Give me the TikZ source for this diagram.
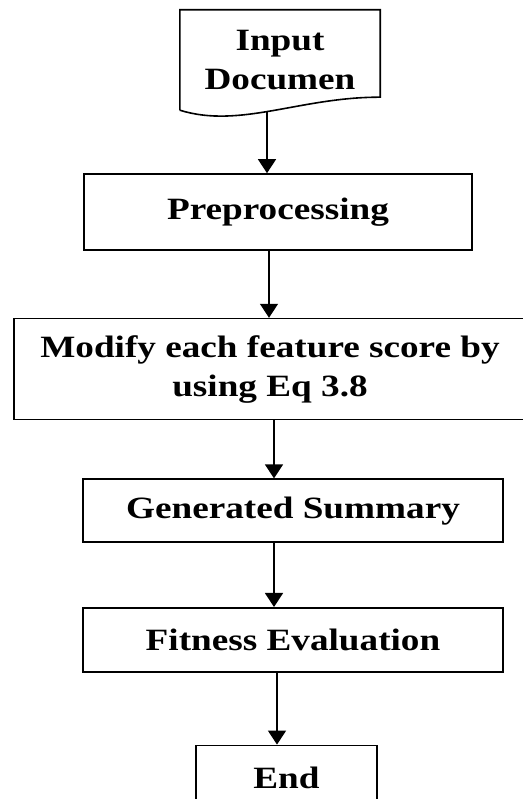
\documentclass[tikz,border=0pt]{standalone}
\usepackage{fontspec}
\setmainfont{Liberation Serif}[FakeStretch=1.2]
\usetikzlibrary{arrows.meta, positioning}

\begin{document}
\begin{tikzpicture}[
    x=1pt, y=1pt,
    every node/.style={align=center, inner sep=0pt, font=\fontsize{31}{39}\selectfont\bfseries},
    box/.style={draw, line width=1.6pt, minimum height=64pt},
    arrow/.style={-{Triangle[width=18pt,length=14pt]}, line width=1.4pt},
    ]
\useasboundingbox (0,0) rectangle (522,799);

% Noeuds
\node[minimum width=200pt, minimum height=100pt] (doc) at (280,739) {Input\\Documen};
\node[box, minimum width=388pt, minimum height=76pt, below=63pt of doc, xshift=-2pt] (prep) {Preprocessing};
\node[box, minimum width=512pt, minimum height=101pt, below=67pt of prep, xshift=-8pt] (modify) {Modify each feature score by\\using Eq 3.8};
\node[box, minimum width=420pt, minimum height=63pt, below=58pt of modify, xshift=23pt] (summary) {Generated Summary};
\node[box, minimum width=420pt, below=64pt of summary] (fitness) {Fitness Evaluation};
\node[box, minimum width=181pt, below=72pt of fitness, xshift=-6.5pt] (end) {End};

% Contour du document
\draw[line width=1.6pt] (doc.south west) -- (doc.north west) -- (doc.north east)
    -- ([yshift=13pt]doc.south east) .. controls (300,702) and (240,670) .. (doc.south west);

% Flèches
\draw[arrow] ([xshift=-13pt,yshift=-1pt]doc.south) -- ([xshift=-11pt]prep.north);
\draw[arrow] ([xshift=-9pt]prep.south) -- ([xshift=-1pt]modify.north);
\draw[arrow] ([xshift=4pt]modify.south) -- ([xshift=-19pt]summary.north);
\draw[arrow] ([xshift=-19pt]summary.south) -- ([xshift=-19pt]fitness.north);
\draw[arrow] ([xshift=-16pt]fitness.south) -- ([xshift=-9.5pt]end.north);

\end{tikzpicture}
\end{document}
